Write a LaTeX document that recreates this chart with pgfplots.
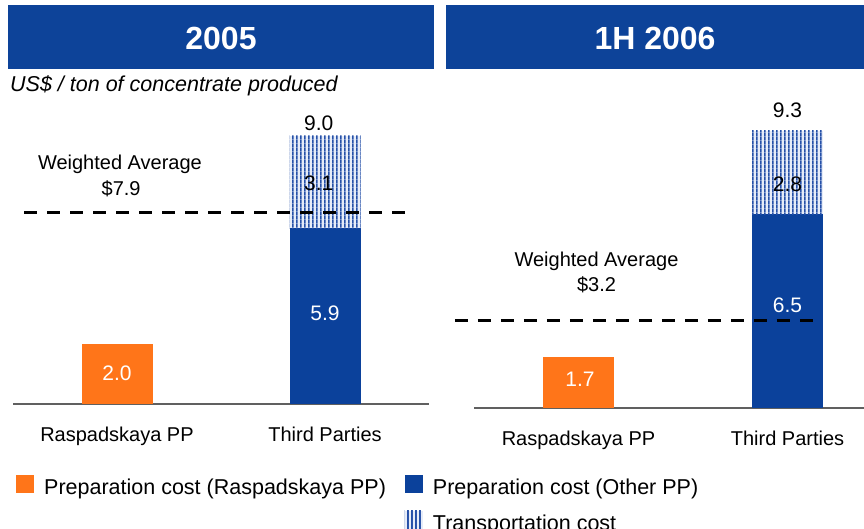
\documentclass[border=0pt]{standalone}
\usepackage{fontspec}
\setmainfont{Liberation Sans}
\usepackage{pgfplots}
\pgfplotsset{compat=1.18}
\usetikzlibrary{patterns.meta}
\definecolor{rorange}{HTML}{FF7519}
\definecolor{rblue}{HTML}{0B419B}
\definecolor{tblue}{HTML}{0D4399}
\definecolor{sdark}{HTML}{2550A8}
\definecolor{slight}{HTML}{E6ECF8}
\definecolor{axgray}{HTML}{606060}
\tikzdeclarepattern{name=vstripes, type=uncolored,
  bounding box={(0bp,0bp) and (3.6bp,3.6bp)}, tile size={(3.6bp,3.6bp)},
  code={\fill (0bp,-0.5bp) rectangle (1.8bp,4.1bp);}}
\newcommand{\fsz}[1]{\fontsize{#1bp}{1.2\dimexpr #1bp\relax}\selectfont}
\pgfplotsset{
  panel/.style={
    scale only axis, height=298bp, ymin=0, ymax=10,
    axis y line=none, axis x line*=bottom,
    x axis line style={axgray, line width=1.3bp},
    xtick={0,1}, major tick length=0pt,
    xticklabel style={font=\fsz{20}, anchor=base, yshift=-38bp},
    ybar stacked, reverse stacked plots=false, bar width=71bp, clip=false,
  },
  avgline/.style={stack plots=false, sharp plot, black, line width=3bp, dash pattern=on 13bp off 10bp, forget plot},
}
\begin{document}
\begin{tikzpicture}[x=1bp,y=1bp]
\useasboundingbox (0,0) rectangle (864,529);
\fill[tblue] (8,460) rectangle (434,524);
\fill[tblue] (446,460) rectangle (864,524);
\node[anchor=base, text=white, font=\bfseries\fsz{32}] at (221,479) {2005};
\node[anchor=base, text=white, font=\bfseries\fsz{32}] at (655,479) {1H 2006};
\node[anchor=base west, inner sep=0pt, font=\itshape\fsz{21.5}] at (10,437) {US\$ / ton of concentrate produced};

\begin{axis}[panel, at={(13bp,125bp)}, anchor=south west, width=416bp,
  xmin=-0.5, xmax=1.5, xticklabels={Raspadskaya PP, Third Parties},
  legend columns=2, legend cell align=left,
  legend style={at={(axis description cs:0,0)}, anchor=north west, xshift=3bp, yshift=-71bp,
    draw=none, fill=none, inner sep=0pt, font=\fsz{21.5}, row sep=12bp,
    nodes={inner sep=0pt, text height=15bp, text depth=4bp},
    /tikz/every odd column/.append style={column sep=10bp},
    /tikz/every even column/.append style={column sep=19bp}},
]
\addplot[draw=none, fill=rorange, legend image code/.code={\fill[rorange] (0bp,-4bp) rectangle (18bp,14bp);}] coordinates {(0,2.0) (1,0)};
\addlegendentry{Preparation cost (Raspadskaya PP)}
\addplot[draw=none, fill=rblue, legend image code/.code={\fill[rblue] (0bp,-4bp) rectangle (18bp,14bp);}] coordinates {(0,0) (1,5.9)};
\addlegendentry{Preparation cost (Other PP)}
\addlegendimage{empty legend}
\addlegendentry{}
\addplot[draw=none, fill=slight, postaction={pattern=vstripes, pattern color=sdark},
  legend image code/.code={\fill[slight] (0bp,-4bp) rectangle (18bp,14bp); \fill[pattern=vstripes, pattern color=sdark] (0bp,-4bp) rectangle (18bp,14bp);}] coordinates {(0,0) (1,3.1)};
\addlegendentry{Transportation cost}
\addplot[avgline] coordinates {(-0.447,6.41) (1.394,6.41)};
\node[anchor=base, text=white, font=\fsz{21}] at (axis cs:0,0.805) {2.0};
\node[anchor=base, text=white, font=\fsz{21}] at (axis cs:1,2.785) {5.9};
\node[anchor=base, font=\fsz{21}] at (axis cs:0.97,7.148) {3.1};
\node[anchor=base, font=\fsz{21}] at (axis cs:0.97,9.161) {9.0};
\node[anchor=base, font=\fsz{20}] at (axis cs:0.014,7.852) {Weighted Average};
\node[anchor=base, font=\fsz{20}] at (axis cs:0.02,7.013) {\$7.9};
\end{axis}

\begin{axis}[panel, at={(474bp,121bp)}, anchor=south west, width=390bp,
  xmin=-0.5, xmax=1.366, xticklabels={Raspadskaya PP, Third Parties}]
\addplot[draw=none, fill=rorange] coordinates {(0,1.7) (1,0)};
\addplot[draw=none, fill=rblue] coordinates {(0,0) (1,6.5)};
\addplot[draw=none, fill=slight, postaction={pattern=vstripes, pattern color=sdark}] coordinates {(0,0) (1,2.8)};
\addplot[avgline] coordinates {(-0.591,2.92) (1.146,2.92)};
\node[anchor=base, text=white, font=\fsz{21}] at (axis cs:0.007,0.705) {1.7};
\node[anchor=base, text=white, font=\fsz{21}] at (axis cs:1,3.188) {6.5};
\node[anchor=base, font=\fsz{21}] at (axis cs:1,7.248) {2.8};
\node[anchor=base, font=\fsz{21}] at (axis cs:1,9.732) {9.3};
\node[anchor=base, font=\fsz{20}] at (axis cs:0.086,4.732) {Weighted Average};
\node[anchor=base, font=\fsz{20}] at (axis cs:0.086,3.893) {\$3.2};
\end{axis}
\end{tikzpicture}
\end{document}
